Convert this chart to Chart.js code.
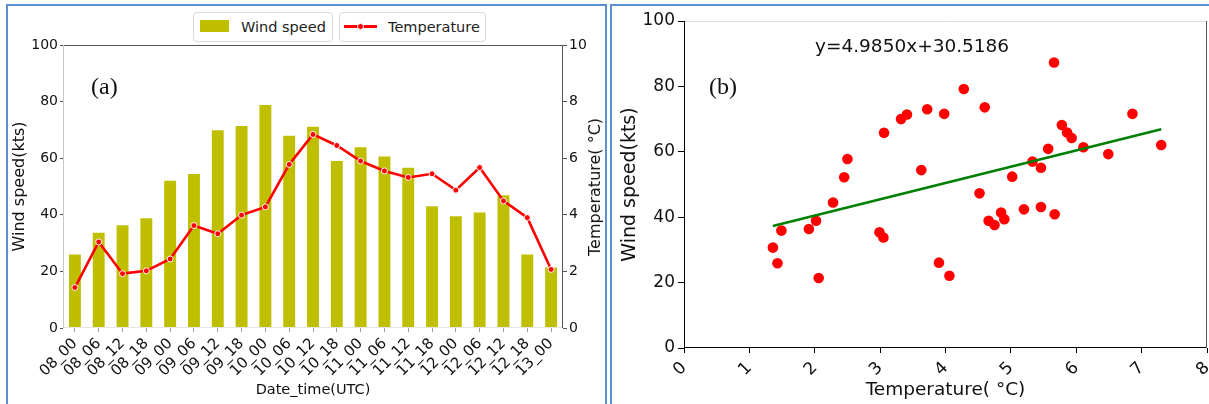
<!DOCTYPE html>
<html><head><meta charset="utf-8">
<script src="https://cdn.jsdelivr.net/npm/chart.js@4.4.0/dist/chart.umd.min.js"></script>
<style>
html,body{margin:0;padding:0;background:#fff;overflow:hidden;width:1209px;height:404px;}
#wrap{position:relative;width:1209px;height:404px;overflow:hidden;font-family:'DejaVu Sans';}
.panel{position:absolute;border:2px solid #5b8fcf;box-sizing:border-box;}
canvas{position:absolute;top:0;}
.lg{position:absolute;top:12px;height:30px;border:1px solid #d9d9d9;border-radius:4px;box-sizing:border-box;background:#fff;font-size:14.5px;color:#222;z-index:3;}
.lt{position:absolute;top:0;line-height:28px;white-space:nowrap;}
.lab{position:absolute;font-family:'Liberation Serif';font-size:24px;line-height:24px;color:#111;z-index:3;}
.eq{position:absolute;font-size:18.5px;line-height:18.5px;color:#111;white-space:nowrap;z-index:3;}
.rt{position:absolute;font-size:16px;line-height:16px;color:#111;white-space:nowrap;z-index:3;transform:translate(-50%,-50%) rotate(-90deg);}
</style></head>
<body>
<div id="wrap">
  <div class="panel" style="left:6px;top:4px;width:601px;height:420px;"></div>
  <div class="panel" style="left:610px;top:4px;width:620px;height:420px;"></div>
  <canvas id="c1" width="609" height="404" style="left:0px"></canvas>
  <canvas id="c2" width="630" height="404" style="left:611px"></canvas>
  <div class="lg" style="left:193px;width:140px">
    <span style="position:absolute;left:6px;top:7px;width:29px;height:12px;background:#bfbf00"></span>
    <span class="lt" style="left:47px">Wind speed</span>
  </div>
  <div class="lg" style="left:339px;width:147px">
    <span style="position:absolute;left:4px;top:12px;width:33px;height:3px;background:#ff0000"></span>
    <span style="position:absolute;left:17px;top:10px;width:5px;height:5px;border-radius:50%;background:#ff0000;border:1px solid #fff"></span>
    <span class="lt" style="left:48px">Temperature</span>
  </div>
  <div class="rt" style="left:595px;top:186.5px">Temperature( °C)</div>
  <div class="lab" style="left:91px;top:74px">(a)</div>
  <div class="lab" style="left:709px;top:74px">(b)</div>
  <div class="eq" style="left:815px;top:37px">y=4.9850x+30.5186</div>
</div>
<script>
// ---- Data: panel (a) ----
const categories = ['08_00','08_06','08_12','08_18','09_00','09_06','09_12','09_18','10_00','10_06','10_12','10_18','11_00','11_06','11_12','11_18','12_00','12_06','12_12','12_18','13_00'];
const windSpeed = [26, 33.7, 36.3, 38.8, 52, 54.4, 69.9, 71.4, 78.8, 67.9, 71.1, 59, 63.9, 60.6, 56.6, 43, 39.5, 40.8, 46.9, 26, 21.4];
const temperature = [1.43, 3.04, 1.92, 2.02, 2.44, 3.62, 3.33, 3.99, 4.28, 5.78, 6.84, 6.45, 5.9, 5.55, 5.32, 5.45, 4.87, 5.67, 4.49, 3.9, 2.07];
const leftTicks = [0, 20, 40, 60, 80, 100];
const rightTicks = [0, 2, 4, 6, 8, 10];

// ---- Data: panel (b) ----
const scatterTemp = [1.36,1.43,1.49,1.91,2.02,2.06,2.28,2.45,2.50,2.99,3.05,3.06,3.32,3.41,3.63,3.72,3.90,3.98,4.06,4.28,4.52,4.60,4.66,4.75,4.85,4.90,5.02,5.20,5.33,5.46,5.46,5.57,5.66,5.67,5.78,5.86,5.93,6.11,6.49,6.86,7.30];
const scatterWind = [30.7,25.9,35.9,36.4,38.9,21.4,44.5,52.2,57.8,35.4,33.8,65.8,70.0,71.4,54.4,73.0,26.1,71.6,22.1,79.2,47.3,73.6,38.9,37.6,41.4,39.4,52.4,42.4,57.0,43.1,55.1,60.9,87.3,40.9,68.2,65.9,64.2,61.4,59.3,71.6,62.1];
const fitX = [1.36, 7.30];
const fitY = [37.30, 66.91];
const xTicksB = [0,1,2,3,4,5,6,7,8];
const yTicksB = [0,20,40,60,80,100];

Chart.defaults.font.family = "'DejaVu Sans'";
Chart.defaults.animation = false;

const spines = {
  id: 'spines',
  afterDatasetsDraw(chart, args, opts) {
    const {ctx, chartArea: a} = chart;
    const s = opts.sides || {};
    ctx.save();
    ctx.lineWidth = 1;
    const line = (x1, y1, x2, y2, c) => { ctx.strokeStyle = c; ctx.beginPath(); ctx.moveTo(x1, y1); ctx.lineTo(x2, y2); ctx.stroke(); };
    if (s.top) line(a.left, a.top + 0.5, a.right, a.top + 0.5, s.top);
    if (s.bottom) line(a.left, a.bottom - 0.5, a.right, a.bottom - 0.5, s.bottom);
    if (s.left) line(a.left + 0.5, a.top, a.left + 0.5, a.bottom, s.left);
    if (s.right) line(a.right - 0.5, a.top, a.right - 0.5, a.bottom, s.right);
    ctx.restore();
  }
};

const fixY = (w) => (s) => { s.width = w; s.paddingTop = 0; s.paddingBottom = 0; };
const fixX = (h) => (s) => { s.height = h; s.paddingLeft = 0; s.paddingRight = 0; };

new Chart(document.getElementById('c1'), {
  data: {
    labels: categories,
    datasets: [
      { type: 'line', label: 'Temperature', data: temperature, yAxisID: 'y2', order: 0,
        borderColor: '#ff0000', borderWidth: 2.6, tension: 0,
        pointRadius: 3, pointBackgroundColor: '#ff0000', pointBorderColor: '#ffffff', pointBorderWidth: 1 },
      { type: 'bar', label: 'Wind speed', data: windSpeed, yAxisID: 'y', order: 1,
        backgroundColor: '#bfbf00', barPercentage: 0.5, categoryPercentage: 1.0 }
    ]
  },
  options: {
    responsive: false, devicePixelRatio: 1,
    layout: { padding: { top: 45, left: 0, right: 0, bottom: 0 } },
    plugins: { legend: { display: false }, tooltip: { enabled: false },
      spines: { sides: { top: '#555555', left: '#c8c8c8', right: '#555555', bottom: '#e6e6e6' } } },
    scales: {
      x: { type: 'category', offset: true, afterFit: fixX(76),
        border: { display: false },
        grid: { offset: false, drawOnChartArea: false, drawTicks: true, tickLength: 4, color: '#999' },
        ticks: { autoSkip: false, minRotation: 45, maxRotation: 45, font: { size: 15 }, color: '#111', padding: 3 },
        title: { display: true, text: 'Date_time(UTC)', font: { size: 14.5 }, color: '#111', padding: { top: 0, bottom: 5.3 } } },
      y: { position: 'left', min: 0, max: 100, afterFit: fixY(63),
        afterBuildTicks: (s) => { s.ticks = leftTicks.map(v => ({ value: v })); },
        border: { display: false },
        grid: { drawOnChartArea: false, drawTicks: true, tickLength: 3, color: '#555' },
        ticks: { font: { size: 14 }, color: '#111', padding: 2 },
        title: { display: true, text: 'Wind speed(kts)', font: { size: 16 }, color: '#111', padding: { top: 10.4, bottom: 0 } } },
      y2: { position: 'right', min: 0, max: 10, afterFit: fixY(46),
        afterBuildTicks: (s) => { s.ticks = rightTicks.map(v => ({ value: v })); },
        border: { display: false },
        grid: { drawOnChartArea: false, drawTicks: true, tickLength: 4, color: '#555' },
        ticks: { font: { size: 14 }, color: '#111', padding: 2 },
        title: { display: false } }
    }
  },
  plugins: [spines]
});

new Chart(document.getElementById('c2'), {
  data: {
    datasets: [
      { type: 'line', label: 'fit', data: fitX.map((x, i) => ({ x, y: fitY[i] })), order: 0,
        borderColor: '#008000', borderWidth: 2.6, pointRadius: 0, tension: 0 },
      { type: 'scatter', label: 'obs', data: scatterTemp.map((x, i) => ({ x, y: scatterWind[i] })), order: 1,
        backgroundColor: '#ff0000', borderWidth: 0, pointRadius: 5.3 }
    ]
  },
  options: {
    responsive: false, devicePixelRatio: 1,
    layout: { padding: { top: 21, left: 0, right: 34, bottom: 0 } },
    plugins: { legend: { display: false }, tooltip: { enabled: false },
      spines: { sides: { top: '#dddddd', left: '#000000', right: '#555555', bottom: '#000000' } } },
    scales: {
      x: { type: 'linear', min: 0, max: 8, afterFit: fixX(56),
        afterBuildTicks: (s) => { s.ticks = xTicksB.map(v => ({ value: v })); },
        border: { display: false },
        grid: { drawOnChartArea: false, drawTicks: true, tickLength: 5, color: '#000' },
        ticks: { minRotation: 45, maxRotation: 45, font: { size: 17 }, color: '#111', padding: 5 },
        title: { display: true, text: 'Temperature( °C)', font: { size: 18.5 }, color: '#111', padding: { top: 0, bottom: 2.9 } } },
      y: { type: 'linear', min: 0, max: 100, afterFit: fixY(73),
        afterBuildTicks: (s) => { s.ticks = yTicksB.map(v => ({ value: v })); },
        border: { display: false },
        grid: { drawOnChartArea: false, drawTicks: true, tickLength: 6, color: '#000' },
        ticks: { font: { size: 17 }, color: '#111', padding: 3 },
        title: { display: true, text: 'Wind speed(kts)', font: { size: 19 }, color: '#111', padding: { top: 7.6, bottom: 0 } } }
    }
  },
  plugins: [spines]
});
</script>
</body></html>
